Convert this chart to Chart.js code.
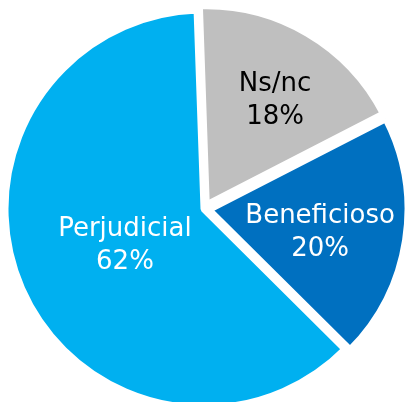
<!DOCTYPE html>
<html>
<head>
<meta charset="utf-8">
<script src="https://cdn.jsdelivr.net/npm/chart.js@4/dist/chart.umd.min.js"></script>
<style>
    html, body { margin: 0; padding: 0; background: #fff; }
    #wrap { width: 405px; height: 402px; }
</style>
</head>
<body>
<div id="wrap"><canvas id="pieChart" width="405" height="402"></canvas></div>
<script>
const categories = ["Ns/nc", "Beneficioso", "Perjudicial"];
const shares = [18, 20, 62];
const sliceColors = ["#BFBFBF", "#0070C0", "#00B0F0"];
const labelColors = ["#000000", "#ffffff", "#ffffff"];

// where each label sits: fraction of radius and angle nudge (degrees)
const labelSpots = [
    { dist: 0.623, turn: 4.6 },
    { dist: 0.602, turn: 5.5 },
    { dist: 0.452, turn: -4.9 }
];

const sliceLabels = {
    id: "sliceLabels",
    afterDatasetsDraw(chart) {
        const ctx = chart.ctx;
        const arcs = chart.getDatasetMeta(0).data;
        ctx.save();
        ctx.font = "26px 'DejaVu Sans'";
        ctx.textAlign = "center";
        ctx.textBaseline = "alphabetic";
        arcs.forEach((arc, i) => {
            const spot = labelSpots[i];
            const mid = (arc.startAngle + arc.endAngle) / 2 + spot.turn * Math.PI / 180;
            const d = arc.outerRadius * spot.dist;
            const x = arc.x + Math.cos(mid) * d;
            const y = arc.y + Math.sin(mid) * d;
            ctx.fillStyle = labelColors[i];
            ctx.fillText(categories[i], x, y - 16);
            ctx.fillText(shares[i] + "%", x, y + 17);
        });
        ctx.restore();
    }
};

new Chart(document.getElementById("pieChart"), {
    type: "pie",
    data: {
        labels: categories,
        datasets: [{
            data: shares,
            backgroundColor: sliceColors,
            borderColor: "#ffffff",
            borderWidth: 7,
            offset: [18, 19, 0]
        }]
    },
    options: {
        responsive: false,
        animation: false,
        rotation: -2,
        radius: 199,
        layout: { padding: { left: 3, right: 0, top: 16, bottom: 0 } },
        plugins: {
            legend: { display: false },
            tooltip: { enabled: false }
        }
    },
    plugins: [sliceLabels]
});
</script>
</body>
</html>
